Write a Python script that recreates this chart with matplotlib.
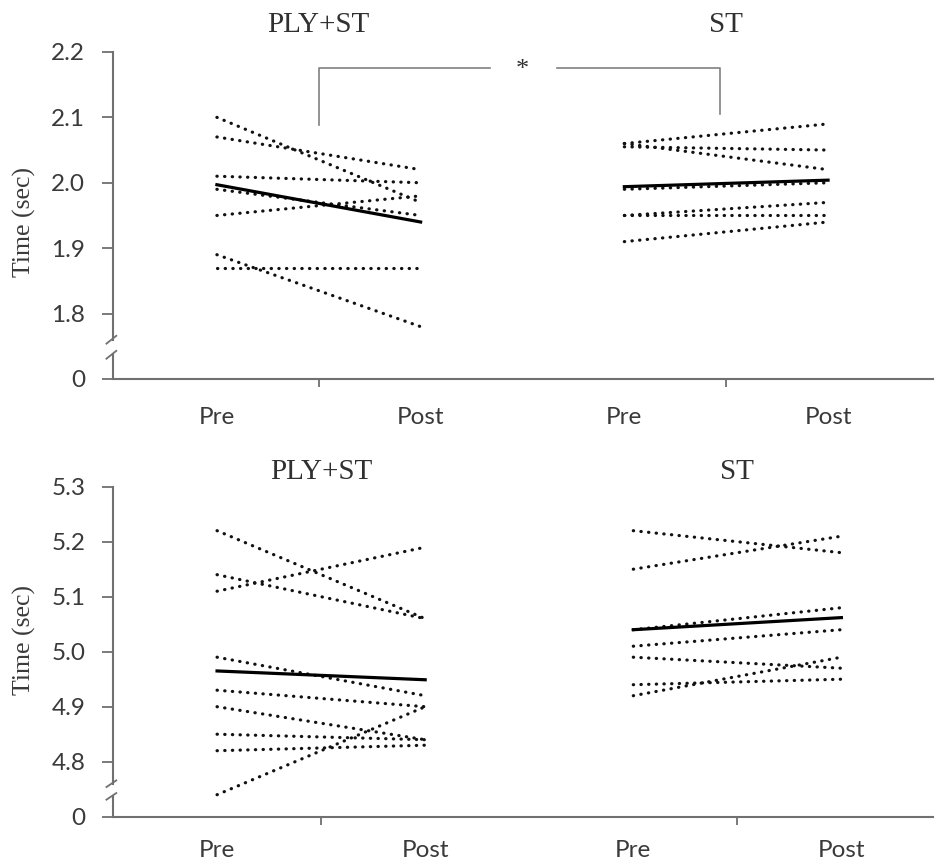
import matplotlib
matplotlib.use("Agg")
import matplotlib.pyplot as plt
import matplotlib.transforms as mtransforms

# values (sec)
conditions = ["PLY+ST", "ST"]
phases = ["Pre", "Post"]

top_ply_pre = [2.10, 2.07, 2.01, 1.99, 1.95, 1.89, 1.87]
top_ply_post = [1.97, 2.02, 2.00, 1.95, 1.98, 1.78, 1.87]
top_ply_mean = [1.997, 1.940]
top_st_pre = [2.06, 2.055, 2.06, 1.99, 1.95, 1.95, 1.91]
top_st_post = [2.09, 2.05, 2.02, 2.00, 1.97, 1.95, 1.94]
top_st_mean = [1.994, 2.004]

bot_ply_pre = [5.22, 5.14, 5.11, 4.99, 4.93, 4.90, 4.85, 4.82, 4.74]
bot_ply_post = [5.06, 5.06, 5.19, 4.92, 4.90, 4.84, 4.84, 4.83, 4.90]
bot_ply_mean = [4.965, 4.949]
bot_st_pre = [5.22, 5.15, 5.04, 5.01, 4.99, 4.94, 4.92]
bot_st_post = [5.18, 5.21, 5.08, 5.04, 4.97, 4.95, 4.99]
bot_st_mean = [5.040, 5.062]

top_yticks = [1.7, 1.8, 1.9, 2.0, 2.1, 2.2]
top_ylabels = ["0", "1.8", "1.9", "2.0", "2.1", "2.2"]
bot_yticks = [4.7, 4.8, 4.9, 5.0, 5.1, 5.2, 5.3]
bot_ylabels = ["0", "4.8", "4.9", "5.0", "5.1", "5.2", "5.3"]

SERIF = "Liberation Serif"
SANS = "Lato"
AXC = "#707070"
TXT = "#3a3a3a"

fig = plt.figure(figsize=(9.37, 8.66), dpi=100)
ax1 = fig.add_axes([0.1206, 0.5624, 0.8751, 0.3776])
ax2 = fig.add_axes([0.1206, 0.0569, 0.8751, 0.3811])


def draw_panel(ax, groups, yticks, ylabels, xlim, title_y, label_y, xpad):
    tx = mtransforms.blended_transform_factory(ax.transData, ax.transAxes)
    for g, (pre, post, mean) in enumerate(groups):
        x = [2 * g, 2 * g + 1]
        for a, b in zip(pre, post):
            ax.plot(x, [a, b], color="#111111", lw=2.3,
                    linestyle=(0, (0.1, 2.3)), dash_capstyle="round", zorder=2)
        ax.plot(x, mean, color="black", lw=2.3, zorder=3)
        ax.text(2 * g + 0.5, title_y, conditions[g], transform=tx,
                ha="center", va="center", fontsize=21, family=SERIF, color="#303030")

    lo, hi = yticks[0], yticks[-1]
    ax.set_xlim(*xlim)
    ax.set_ylim(lo, hi)
    ax.set_yticks(yticks)
    ax.set_yticklabels(ylabels)
    ax.set_xticks([0, 1, 2, 3])
    ax.set_xticklabels(phases * 2)
    ax.set_xticks([0.5, 2.5], minor=True)
    ax.tick_params(axis="x", which="major", length=0, pad=xpad)
    ax.tick_params(axis="x", which="minor", length=6, width=1.3, color=AXC, direction="out")
    ax.tick_params(axis="y", length=8, width=1.3, color=AXC, pad=12)
    for lab in ax.get_xticklabels() + ax.get_yticklabels():
        lab.set_family(SANS)
        lab.set_fontsize(17.5)
        lab.set_color(TXT)

    for s in ["top", "right"]:
        ax.spines[s].set_visible(False)
    for s in ["left", "bottom"]:
        ax.spines[s].set_color(AXC)
        ax.spines[s].set_linewidth(1.5)

    # axis break on the y axis
    b_hi = lo + 0.06
    b_lo = lo + 0.037
    ax.spines["left"].set_bounds(b_hi, hi)
    tr = mtransforms.blended_transform_factory(ax.transAxes, ax.transData)
    ax.plot([0, 0], [lo, b_lo], transform=tr, color=AXC, lw=1.5, clip_on=False)
    for yb in (b_lo, b_hi):
        ax.plot([-0.008, 0.004], [yb - 0.006, yb + 0.006], transform=tr,
                color=AXC, lw=1.3, clip_on=False)

    ax.set_ylabel("Time (sec)", family=SERIF, fontsize=18.5, color=TXT, va="center")
    ax.yaxis.set_label_coords(-0.108, label_y)


draw_panel(ax1,
           [(top_ply_pre, top_ply_post, top_ply_mean),
            (top_st_pre, top_st_post, top_st_mean)],
           top_yticks, top_ylabels, (-0.51, 3.515), 1.083, 0.48, 20)
draw_panel(ax2,
           [(bot_ply_pre, bot_ply_post, bot_ply_mean),
            (bot_st_pre, bot_st_post, bot_st_mean)],
           bot_yticks, bot_ylabels, (-0.50, 3.44), 1.045, 0.536, 17)

# significance bracket between groups (top panel)
BR = "#808080"
ax1.plot([0.5, 0.5, 1.34], [2.088, 2.175, 2.175], color=BR, lw=1.2, clip_on=False)
ax1.plot([1.67, 2.47, 2.47], [2.175, 2.175, 2.105], color=BR, lw=1.2, clip_on=False)
ax1.text(1.5, 2.172, "*", ha="center", va="center", fontsize=19, family=SERIF, color="#303030")

fig.savefig("out.png", dpi=100)
